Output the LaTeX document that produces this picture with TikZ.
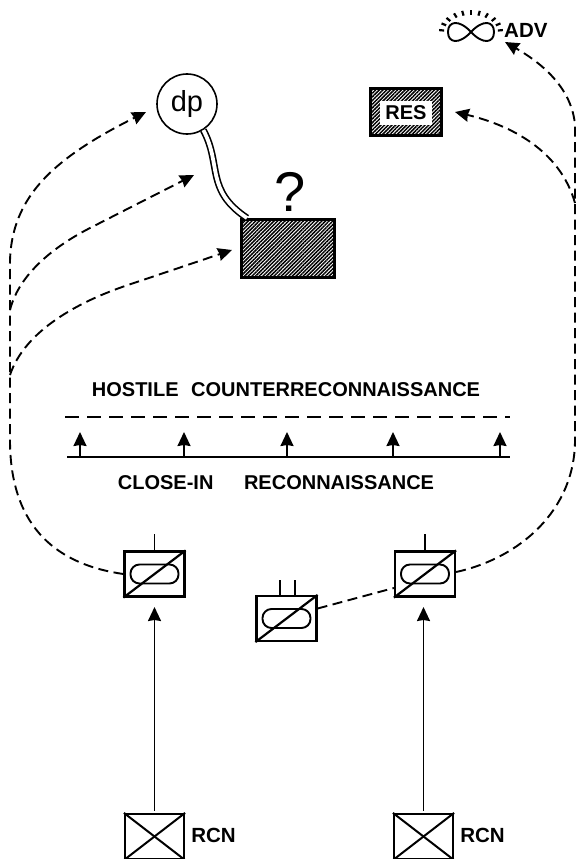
\documentclass[tikz,border=0pt]{standalone}
\usepackage{fontspec}
\setmainfont{Liberation Sans}
\usetikzlibrary{patterns.meta,arrows.meta}
\tikzset{>={Stealth[length=14pt,width=13pt,inset=1pt]}}
\tikzset{basic/.style={draw,line width=2.2pt,inner sep=0pt,text badly centered}}
\tikzset{unitbox/.style={basic,rectangle,minimum width=60pt,minimum height=45pt}}
\tikzset{rcnbox/.style={basic,rectangle,minimum width=59pt,minimum height=45pt}}
\tikzset{hatched/.style={basic,rectangle,line width=3pt,
                         pattern={Lines[angle=45,distance=2.6pt,line width=1.5pt]}}}
\tikzset{lettering/.style={font=\fontsize{20}{22}\selectfont\bfseries,inner sep=0pt}}
\tikzset{tag/.style={font=\fontsize{20.5}{22}\selectfont\bfseries,inner sep=0pt}}
\tikzset{route/.style={dash pattern=on 10pt off 5.5pt,line width=1.9pt}}
\newcommand{\ovalsymbol}{\draw[line width=1.9pt,rounded corners=9pt]
                         (-24,-9.5) rectangle (24,9.5);}
\begin{document}
\begin{tikzpicture}[x=1pt,y=-1pt]
    \useasboundingbox (0,0) rectangle (578,859);

    % staff and reserve
    \node[basic,circle,line width=1.6pt,minimum size=60pt,font=\fontsize{29}{30}\selectfont] (dp) at (187,104) {dp};
    \node[hatched,minimum width=93pt,minimum height=58pt] (target) at (287.5,248.5) {};
    \node[font=\fontsize{56}{60}\selectfont,inner sep=0pt] (query) at (290,192) {?};
    \node[hatched,minimum width=71pt,minimum height=47pt] (res) at (406,111.5) {};
    \node[fill=white,minimum width=52pt,minimum height=24pt,inner sep=0pt,font=\fontsize{20}{22}\selectfont\bfseries] (reslabel) at (406,112.5) {RES};
    \coordinate (stem) at (247,218);
    \draw[line width=7pt] (dp.-58) .. controls (222,165) and (205,190) .. (stem);
    \draw[line width=3.8pt,white] (dp.-58) .. controls (222,165) and (205,190) .. (stem);

    % adversary
    \node[inner sep=0pt,minimum width=47pt,minimum height=20pt] (adv) at (471,32) {};
    \draw[line width=1.9pt] (adv.center) .. controls (483,19) and (494,21) .. (494,32)
                            .. controls (494,43) and (483,45) .. (adv.center)
                            .. controls (459,19) and (448,21) .. (448,32)
                            .. controls (448,43) and (459,45) .. (adv.center);
    \foreach \a in {-175,-157,-140,-122,-106,-90,-74,-58,-40,-23,-5}{
        \draw[line width=2.2pt] (adv.center) ++(\a:27 and 17) -- ++(\a:5);
    }
    \node[tag,anchor=west] (advlabel) at (504,30) {ADV};

    % lines of reconnaissance
    \node[lettering] (hostile) at (286,390) {HOSTILE\hspace{7pt} COUNTERRECONNAISSANCE};
    \node[lettering] (closein) at (276,483) {CLOSE-IN\hspace{25pt} RECONNAISSANCE};
    \coordinate (d1) at (65,417);
    \coordinate (d2) at (510,417);
    \coordinate (l1) at (67,457);
    \coordinate (l2) at (510,457);
    \draw[dash pattern=on 14pt off 8pt,line width=2.2pt] (d1) -- (d2);
    \draw[line width=2.2pt] (l1) -- (l2);
    \foreach \x [count=\xi] in {80,184,287,393,500}{
        \coordinate (t\xi) at (\x,457);
        \draw[->,line width=1.9pt] (t\xi) -- ++(0,-25);
    }

    % units
    \node[unitbox] (unit1) at (154.5,574) {};
    \node[unitbox] (unit2) at (425,574) {};
    \node[unitbox] (unit3) at (286.5,618.5) {};
    \foreach \u in {1,2,3}{
        \begin{scope}[shift={(unit\u.center)}]
            \ovalsymbol
        \end{scope}
        \draw[line width=2.2pt] (unit\u.south west) -- (unit\u.north east);
    }
    \draw[line width=1.3pt] (unit1.north) -- ++(0,-16);
    \draw[line width=1.3pt] (unit2.north) -- ++(0,-16);
    \draw[line width=1.3pt] (280,596) -- ++(0,-16);
    \draw[line width=1.3pt] (295,596) -- ++(0,-16);

    % recon troops
    \node[rcnbox] (rcn1) at (154.5,836.5) {};
    \node[rcnbox] (rcn2) at (423.5,836.5) {};
    \foreach \r in {1,2}{
        \draw[line width=2pt] (rcn\r.south west) -- (rcn\r.north east);
        \draw[line width=2pt] (rcn\r.north west) -- (rcn\r.south east);
        \node[tag,anchor=west] (rcnlabel\r) at ([xshift=6pt,yshift=1pt]rcn\r.east) {RCN};
    }
    \draw[->,line width=1.7pt] ([yshift=2pt]rcn1.north) -- (154.5,607);
    \draw[->,line width=1.7pt] ([yshift=2pt]rcn2.north) -- (423.5,607);

    % routes on the left
    \coordinate (lefta) at (10,310);
    \coordinate (leftb) at (10,375);
    \draw[route,->] (unit1.west) .. controls (60,565) and (10,530) .. (10,440)
          -- (10,270) .. controls (8,200) and (50,160) .. (146,112);
    \draw[route,->] (lefta) .. controls (20,270) and (62,242) .. (92,227) -- (194,175);
    \draw[route,->] (leftb) .. controls (25,330) and (80,301) .. (128,285) -- (232,250);

    % routes on the right
    \coordinate (fork) at (575,203);
    \draw[route] ([yshift=10pt]unit3.east) -- ([yshift=-14pt]unit2.west);
    \draw[route,->] ([yshift=2pt]unit2.east) .. controls (520,558) and (575,510) .. (575,440)
          -- (575,125) .. controls (572,90) and (545,65) .. (505,42);
    \draw[route,->] (fork) .. controls (560,150) and (510,125) .. (455,112);
\end{tikzpicture}
\end{document}
